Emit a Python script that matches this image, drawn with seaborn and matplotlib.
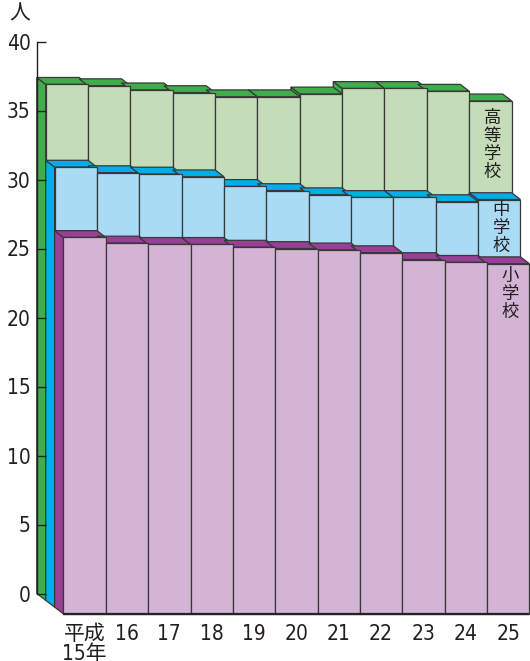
import matplotlib
matplotlib.use("Agg")
import matplotlib.pyplot as plt
from matplotlib.patches import Polygon
from matplotlib import font_manager
import numpy as np
import seaborn as sns

# ---------------- data ----------------
years = ["平成\n15年", "16", "17", "18", "19", "20", "21", "22", "23", "24", "25"]
high_school = [36.9, 36.8, 36.5, 36.3, 36.0, 36.0, 36.2, 36.6, 36.6, 36.4, 35.7]
junior_high = [30.9, 30.5, 30.4, 30.2, 29.5, 29.2, 28.9, 28.7, 28.7, 28.4, 28.55]
elementary = [25.8, 25.4, 25.3, 25.3, 25.1, 25.0, 24.9, 24.7, 24.2, 24.0, 23.9]
series_names = ["高等学校", "中学校", "小学校"]
y_ticks = [0, 5, 10, 15, 20, 25, 30, 35, 40]
unit_label = "人"

# ---------------- style ----------------
sns.set_theme(style="white")
CJK = "Noto Sans CJK JP"
num_font, num_stretch, best = "Liberation Sans", "normal", 99
for f in font_manager.fontManager.ttflist:
    nm = f.name
    if f.style != "normal" or f.weight not in (400, "normal", "regular", "book"):
        continue
    if "Sans" not in nm or "Serif" in nm or "Mono" in nm or "CJK" in nm:
        continue
    narrow = "Narrow" in nm or "Condensed" in nm or str(f.stretch) in ("condensed", "semi-condensed")
    if not narrow:
        continue
    rank = 0 if "Liberation" in nm else 1
    if rank < best:
        num_font, num_stretch, best = nm, f.stretch, rank
plt.rcParams["font.family"] = [num_font, CJK]
plt.rcParams["font.stretch"] = num_stretch
TEXT = "#231f20"
EDGE = "#383838"

layers = [
    (high_school, "#c4ddb8", "#3fae4a"),
    (junior_high, "#a9dbf5", "#00aee8"),
    (elementary, "#d3b4d4", "#983f97"),
]

W, H = 530, 661
PX_X0, COLW = 63.5, 42.35      # purple front face of first column, column width (px)
PX_Y0, YSC = 593.5, 13.8       # pixel of value 0 on axis plane, px per unit
dx = 8.9 / COLW                # depth shift (data units)
dy = 6.8 / YSC

fig = plt.figure(figsize=(W / 100, H / 100), dpi=100)
ax = fig.add_axes([0, 0, 1, 1])
ax.set_facecolor("white")

n = len(years)
lw = 0.9
for k, (vals, light, dark) in enumerate(layers):
    vals = np.asarray(vals, dtype=float)
    fx = -(2 - k) * dx
    bx = fx - dx
    fy = -(k + 1) * dy
    by = fy + dy
    zb = 10 * k
    # side walls
    for i in range(n):
        v = vals[i]
        ax.add_patch(Polygon([(bx + i, by), (fx + i, fy), (fx + i, v), (bx + i, v + dy)],
                             closed=True, facecolor=dark, edgecolor=EDGE, lw=lw, zorder=zb + 1))
    # top faces
    for i in range(n):
        v = vals[i]
        ax.add_patch(Polygon([(fx + i, v), (fx + i + 1, v), (bx + i + 1, v + dy), (bx + i, v + dy)],
                             closed=True, facecolor=dark, edgecolor=EDGE, lw=lw, zorder=zb + 2))
    # front faces
    centers = fx + np.arange(n) + 0.5
    sns.barplot(x=centers, y=vals - fy, native_scale=True, width=1, bottom=fy,
                color=light, saturation=1, edgecolor=EDGE, linewidth=lw,
                errorbar=None, zorder=zb + 3, ax=ax)

# baseline of front
ax.plot([0, n], [-3 * dy, -3 * dy], color="#222222", lw=1.6, zorder=40, solid_capstyle="butt")

# series labels (vertical)
lab_y = [high_school[-1] - 3.2, junior_high[-1] - 2.05, elementary[-1] - 2.2]
for k, name in enumerate(series_names):
    fx = -(2 - k) * dx
    ax.text(fx + n - 0.45, lab_y[k], "\n".join(name), ha="center", va="center",
            fontsize=12.5, family=[CJK], color=TEXT, linespacing=1.0, zorder=50)

# axes
ax.set_xlim(-PX_X0 / COLW, (W - PX_X0) / COLW)
ax.set_ylim((PX_Y0 - H) / YSC, PX_Y0 / YSC)
for s in ["top", "right"]:
    ax.spines[s].set_visible(False)
ax.spines["left"].set_position(("data", -3 * dx))
ax.spines["left"].set_bounds(0, 40)
ax.spines["left"].set_color("#222222")
ax.spines["left"].set_linewidth(1.0)
ax.spines["left"].set_zorder(100)
ax.spines["bottom"].set_position(("data", -3 * dy))
ax.spines["bottom"].set_color("none")
ax.yaxis.set_zorder(100)

ax.set_yticks(y_ticks)
ax.set_yticklabels([str(t) for t in y_ticks])
ax.set_xticks(np.arange(n) + 0.5)
ax.set_xticklabels(years)
ax.tick_params(axis="y", direction="in", length=6.4, width=1.0, color="#222222",
               pad=4.5, labelsize=15, labelcolor=TEXT, left=True)
ax.tick_params(axis="x", length=0, pad=7.5, labelsize=15, labelcolor=TEXT)
for t in ax.get_xticklabels():
    t.set_linespacing(1.0)
ax.set_xlabel("")
ax.set_ylabel("")
ax.grid(False)

fig.text(20 / W, 1 - 14 / H, unit_label, ha="center", va="center", fontsize=15,
         family=[CJK], color=TEXT)

fig.savefig("out.png", dpi=100, facecolor="white")
